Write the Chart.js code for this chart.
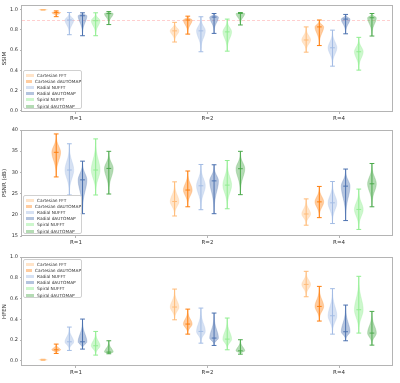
<!DOCTYPE html>
<html>
<head>
<meta charset="utf-8">
<script src="https://cdn.jsdelivr.net/npm/chart.js@4.4.1/dist/chart.umd.min.js"></script>
<style>
  body { margin: 0; width: 400px; height: 383px; background: #fff; position: relative; overflow: hidden; font-family: "DejaVu Sans", sans-serif; }
  canvas { position: absolute; left: 0; }
  .legend { position: absolute; left: 23px; width: 59px; height: 39px; box-sizing: border-box; padding: 1px 0 0 2px;
            border: 1px solid #d0d0d0; border-radius: 2px; background: rgba(255,255,255,0.8); }
  .legend div { display: flex; align-items: center; height: 6.2px; font-size: 4.3px; color: #333; white-space: nowrap; }
  .legend span { display: inline-block; width: 8px; height: 3px; margin-right: 3px; }
</style>
</head>
<body>
<canvas id="ssimChart" width="400" height="125" style="top:0"></canvas>
<canvas id="psnrChart" width="400" height="125" style="top:125px"></canvas>
<canvas id="hfenChart" width="400" height="133" style="top:250px"></canvas>
<div class="legend" id="ssimLegend" style="top:70px"></div>
<div class="legend" id="psnrLegend" style="top:195px"></div>
<div class="legend" id="hfenLegend" style="top:259px"></div>
<script>
const methods = ['Cartesian FFT', 'Cartesian dAUTOMAP', 'Radial NUFFT', 'Radial dAUTOMAP', 'Spiral NUFFT', 'Spiral dAUTOMAP'];
const rates = ['R=1', 'R=2', 'R=4'];

// one row per method, columns R=1, R=2, R=4
const ssimMin = [
    [0.995, 0.68, 0.58], [0.93, 0.758, 0.645], [0.752, 0.584, 0.442],
    [0.742, 0.765, 0.761], [0.742, 0.59, 0.403], [0.852, 0.848, 0.739]
];
const ssimMedian = [
    [0.999, 0.79, 0.70], [0.97, 0.897, 0.829], [0.897, 0.79, 0.623],
    [0.939, 0.926, 0.906], [0.89, 0.78, 0.584], [0.96, 0.961, 0.919]
];
const ssimMax = [
    [1.0, 0.874, 0.829], [0.987, 0.935, 0.897], [0.971, 0.929, 0.797],
    [0.968, 0.961, 0.952], [0.968, 0.906, 0.726], [0.98, 0.971, 0.961]
];
const ssimThreshold = 0.9;

const psnrMin = [
    [null, 19.72, 17.55], [28.93, 21.89, 19.33], [24.67, 21.2, 17.94],
    [20.26, 20.26, 18.64], [24.67, 21.42, 16.55], [24.9, 24.75, 21.89]
];
const psnrMedian = [
    [null, 23.13, 20.19], [34.74, 25.84, 23.05], [30.56, 26.84, 22.82],
    [28.24, 28.0, 26.76], [30.56, 27.0, 21.27], [30.94, 30.87, 27.31]
];
const psnrMax = [
    [null, 27.77, 23.75], [39.07, 30.33, 26.69], [36.75, 31.87, 27.85],
    [32.65, 31.8, 30.79], [37.9, 32.8, 26.07], [34.97, 34.97, 32.1]
];

const hfenMin = [
    [0.005, 0.395, 0.617], [0.071, 0.257, 0.383], [0.1, 0.17, 0.257],
    [0.113, 0.148, 0.193], [0.055, 0.106, 0.267], [0.068, 0.064, 0.151]
];
const hfenMedian = [
    [0.01, 0.518, 0.736], [0.106, 0.354, 0.524], [0.183, 0.283, 0.434],
    [0.183, 0.219, 0.28], [0.145, 0.209, 0.492], [0.084, 0.096, 0.267]
];
const hfenMax = [
    [0.015, 0.691, 0.862], [0.161, 0.498, 0.717], [0.325, 0.508, 0.695],
    [0.402, 0.46, 0.537], [0.283, 0.412, 0.814], [0.193, 0.203, 0.476]
];

const unitTicks = [0, 0.2, 0.4, 0.6, 0.8, 1.0];
const psnrTicks = [15, 20, 25, 30, 35, 40];

const lineColors = ['#ffbb78', '#ff7f0e', '#a3bce4', '#4c72b0', '#90ee90', '#4caa4c'];
const fillColors = ['rgba(255,187,120,0.4)', 'rgba(255,127,14,0.4)', 'rgba(163,188,228,0.45)',
                    'rgba(76,114,176,0.42)', 'rgba(144,238,144,0.45)', 'rgba(76,170,76,0.42)'];

const VIOLIN_HALF = 0.033;
const FONT = 'DejaVu Sans';

function drawViolin(ctx, xs, ys, xv, lo, med, hi, line, fill) {
    const cx = xs.getPixelForValue(xv);
    const half = xs.getPixelForValue(xv + VIOLIN_HALF) - cx;
    const sLo = Math.max(med - lo, 1e-6) / 3.1;
    const sHi = Math.max(hi - med, 1e-6) / 3.1;
    const steps = 48;
    const left = [], right = [];
    for (let i = 0; i <= steps; i++) {
        const v = lo + (hi - lo) * i / steps;
        const s = v < med ? sLo : sHi;
        const w = half * Math.exp(-0.5 * Math.pow((v - med) / s, 2));
        const py = ys.getPixelForValue(v);
        left.push([cx - w, py]);
        right.push([cx + w, py]);
    }
    ctx.save();
    ctx.beginPath();
    left.forEach(([px, py], i) => i ? ctx.lineTo(px, py) : ctx.moveTo(px, py));
    right.reverse().forEach(([px, py]) => ctx.lineTo(px, py));
    ctx.closePath();
    ctx.fillStyle = fill;
    ctx.fill();
    ctx.strokeStyle = fill;
    ctx.lineWidth = 0.6;
    ctx.stroke();

    const cap = half * 0.55;
    const yLo = ys.getPixelForValue(lo);
    const yHi = ys.getPixelForValue(hi);
    const yMed = ys.getPixelForValue(med);
    ctx.strokeStyle = line;
    ctx.lineWidth = 1;
    ctx.beginPath();
    ctx.moveTo(cx, yLo);
    ctx.lineTo(cx, yHi);
    [yLo, yHi, yMed].forEach(py => {
        ctx.moveTo(cx - cap, py);
        ctx.lineTo(cx + cap, py);
    });
    ctx.stroke();
    ctx.restore();
}

const violinPlugin = {
    id: 'violins',
    afterDatasetsDraw(chart) {
        const { ctx, scales: { x, y } } = chart;
        ctx.save();
        ctx.beginPath();
        ctx.rect(chart.chartArea.left, chart.chartArea.top, chart.chartArea.width, chart.chartArea.height);
        ctx.clip();
        chart.data.datasets.forEach(ds => {
            ds.data.forEach((pt, j) => {
                if (pt.y === null) return;
                drawViolin(ctx, x, y, pt.x, ds.lows[j], pt.y, ds.highs[j], ds.borderColor, ds.backgroundColor);
            });
        });
        ctx.restore();
    }
};

const framePlugin = {
    id: 'frame',
    beforeDatasetsDraw(chart, args, opts) {
        if (opts.threshold === undefined) return;
        const { ctx, chartArea: a, scales: { y } } = chart;
        const py = Math.round(y.getPixelForValue(opts.threshold)) + 0.5;
        ctx.save();
        ctx.strokeStyle = 'rgba(255,80,80,0.35)';
        ctx.lineWidth = 0.8;
        ctx.setLineDash([3, 2]);
        ctx.beginPath();
        ctx.moveTo(a.left, py);
        ctx.lineTo(a.right, py);
        ctx.stroke();
        ctx.restore();
    },
    afterDraw(chart) {
        const { ctx, chartArea: a } = chart;
        ctx.save();
        ctx.strokeStyle = '#b4b4b4';
        ctx.lineWidth = 1;
        ctx.strokeRect(Math.round(a.left) - 0.5, Math.round(a.top) + 0.5, Math.round(a.width), Math.round(a.height) - 1);
        ctx.restore();
    }
};

function buildLegend(id) {
    document.getElementById(id).innerHTML = methods.map((m, k) =>
        `<div><span style="background:${fillColors[k]}"></span>${m}</div>`).join('');
}

function makeChart(canvasId, cfg) {
    const datasets = methods.map((m, k) => ({
        label: m,
        data: rates.map((r, j) => ({ x: j + 1 + (k - 2.5) * 0.1, y: cfg.median[k][j] })),
        lows: cfg.min[k],
        highs: cfg.max[k],
        borderColor: lineColors[k],
        backgroundColor: fillColors[k],
        pointRadius: 0,
        showLine: false
    }));

    return new Chart(document.getElementById(canvasId), {
        type: 'scatter',
        data: { datasets },
        options: {
            responsive: false,
            animation: false,
            events: [],
            layout: { padding: { top: cfg.top, right: 7, left: 0, bottom: 0 } },
            plugins: {
                legend: { display: false },
                tooltip: { enabled: false },
                frame: { threshold: cfg.threshold }
            },
            scales: {
                x: {
                    type: 'linear',
                    min: 0.59,
                    max: 3.41,
                    afterBuildTicks: s => { s.ticks = rates.map((r, j) => ({ value: j + 1 })); },
                    afterFit: s => { s.height = cfg.xHeight; },
                    grid: { drawOnChartArea: false, tickLength: 2, color: '#b4b4b4' },
                    border: { display: false },
                    ticks: {
                        padding: 1,
                        maxRotation: 0,
                        color: '#333',
                        font: { family: FONT, size: 5.5 },
                        callback: v => rates[Math.round(v) - 1]
                    }
                },
                y: {
                    min: cfg.yMin,
                    max: cfg.yMax,
                    afterBuildTicks: s => { s.ticks = cfg.ticks.map(v => ({ value: v })); },
                    afterFit: s => { s.width = 22; },
                    grid: { drawOnChartArea: false, tickLength: 2, color: '#b4b4b4' },
                    border: { display: false },
                    title: {
                        display: true,
                        text: cfg.title,
                        color: '#333',
                        padding: { top: 1, bottom: 0 },
                        font: { family: FONT, size: 5.5 }
                    },
                    ticks: {
                        padding: 2,
                        color: '#333',
                        font: { family: FONT, size: 5 },
                        callback: v => cfg.decimals ? v.toFixed(1) : String(v)
                    }
                }
            }
        },
        plugins: [violinPlugin, framePlugin]
    });
}

makeChart('ssimChart', {
    median: ssimMedian, min: ssimMin, max: ssimMax, title: 'SSIM',
    yMin: -0.01, yMax: 1.045, ticks: unitTicks, decimals: true,
    top: 3, xHeight: 13, threshold: ssimThreshold
});
makeChart('psnrChart', {
    median: psnrMedian, min: psnrMin, max: psnrMax, title: 'PSNR (dB)',
    yMin: 15, yMax: 40, ticks: psnrTicks, decimals: false,
    top: 3, xHeight: 14
});
makeChart('hfenChart', {
    median: hfenMedian, min: hfenMin, max: hfenMax, title: 'HFEN',
    yMin: -0.05, yMax: 1.0, ticks: unitTicks, decimals: true,
    top: 7, xHeight: 17
});

buildLegend('ssimLegend');
buildLegend('psnrLegend');
buildLegend('hfenLegend');
</script>
</body>
</html>
